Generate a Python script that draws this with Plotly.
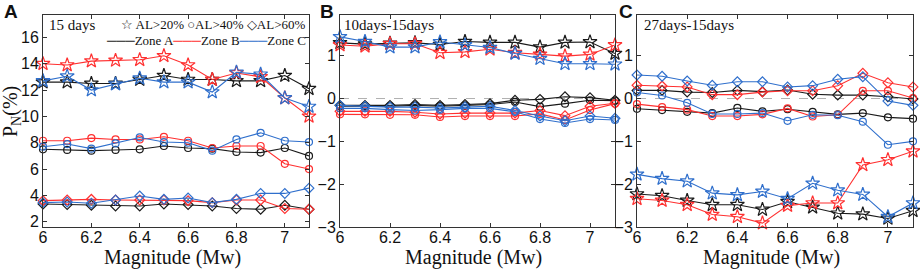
import plotly.graph_objects as go

# ---------------- data ----------------
mag = [6.0, 6.1, 6.2, 6.3, 6.4, 6.5, 6.6, 6.7, 6.8, 6.9, 7.0, 7.1]
x_tickvals = [6, 6.2, 6.4, 6.6, 6.8, 7]
x_ticktext = ["6", "6.2", "6.4", "6.6", "6.8", "7"]
a_tickvals = [2, 4, 6, 8, 10, 12, 14, 16]
bc_tickvals = [-3, -2, -1, 0, 1]

zones = ["Zone A", "Zone B", "Zone C"]
al_levels = ["AL>20%", "AL>40%", "AL>60%"]

# Panel A: 15 days
A_zoneA_20 = [12.6, 12.6, 12.5, 12.5, 12.8, 13.1, 12.8, 12.8, 12.7, 12.7, 13.1, 12.1]
A_zoneB_20 = [14.0, 13.9, 14.2, 14.25, 14.3, 14.6, 13.9, 12.8, 13.3, 13.0, 11.4, 10.0]
A_zoneC_20 = [12.7, 13.05, 12.0, 12.45, 12.9, 12.6, 12.6, 11.85, 13.35, 13.2, 11.4, 10.75]
A_zoneA_40 = [7.5, 7.45, 7.4, 7.45, 7.5, 7.75, 7.6, 7.55, 7.3, 7.25, 7.6, 7.0]
A_zoneB_40 = [8.15, 8.15, 8.35, 8.25, 8.25, 8.45, 8.15, 7.6, 7.75, 7.75, 6.4, 6.0]
A_zoneC_40 = [7.7, 7.9, 7.55, 7.95, 8.4, 8.05, 8.0, 7.4, 8.25, 8.75, 8.15, 8.05]
A_zoneA_60 = [3.35, 3.3, 3.25, 3.2, 3.2, 3.35, 3.3, 3.2, 3.0, 2.95, 3.25, 2.95]
A_zoneB_60 = [3.6, 3.65, 3.7, 3.65, 3.65, 3.65, 3.6, 3.45, 3.65, 3.65, 3.0, 2.95]
A_zoneC_60 = [3.45, 3.5, 3.4, 3.65, 3.95, 3.7, 3.8, 3.45, 3.7, 4.15, 4.15, 4.55]

# Panel B: 10days-15days
B_zoneA_20 = [1.30, 1.27, 1.29, 1.30, 1.26, 1.33, 1.31, 1.31, 1.20, 1.31, 1.32, 1.05]
B_zoneB_20 = [1.25, 1.22, 1.28, 1.28, 1.07, 1.09, 1.15, 1.07, 1.03, 0.99, 1.03, 1.25]
B_zoneC_20 = [1.44, 1.33, 1.20, 1.20, 1.32, 1.25, 1.19, 1.05, 0.93, 0.81, 0.81, 0.80]
B_zoneA_40 = [-0.18, -0.18, -0.18, -0.16, -0.18, -0.16, -0.14, -0.08, -0.19, -0.12, -0.04, -0.05]
B_zoneB_40 = [-0.37, -0.37, -0.38, -0.38, -0.43, -0.41, -0.41, -0.41, -0.36, -0.50, -0.27, -0.12]
B_zoneC_40 = [-0.23, -0.23, -0.26, -0.28, -0.26, -0.23, -0.23, -0.31, -0.48, -0.57, -0.48, -0.50]
B_zoneA_60 = [-0.16, -0.16, -0.16, -0.14, -0.16, -0.14, -0.12, -0.04, -0.02, 0.04, 0.02, -0.04]
B_zoneB_60 = [-0.30, -0.30, -0.30, -0.32, -0.36, -0.34, -0.34, -0.34, -0.28, -0.40, -0.18, -0.11]
B_zoneC_60 = [-0.16, -0.18, -0.20, -0.20, -0.22, -0.20, -0.18, -0.28, -0.41, -0.52, -0.41, -0.46]

# Panel C: 27days-15days
C_zoneA_20 = [-2.23, -2.27, -2.38, -2.48, -2.48, -2.59, -2.41, -2.54, -2.68, -2.70, -2.80, -2.62]
C_zoneB_20 = [-2.34, -2.38, -2.48, -2.71, -2.76, -2.91, -2.50, -2.44, -2.44, -1.55, -1.43, -1.23]
C_zoneC_20 = [-1.77, -1.87, -1.93, -2.21, -2.25, -2.17, -2.34, -1.98, -2.14, -2.24, -2.76, -2.44]
C_zoneA_40 = [-0.24, -0.27, -0.31, -0.34, -0.22, -0.30, -0.25, -0.31, -0.37, -0.34, -0.44, -0.47]
C_zoneB_40 = [-0.13, -0.20, -0.26, -0.41, -0.41, -0.37, -0.23, -0.42, -0.38, 0.18, 0.18, 0.01]
C_zoneC_40 = [0.14, 0.07, -0.10, -0.36, -0.36, -0.34, -0.52, -0.38, -0.39, -0.54, -1.08, -1.00]
C_zoneA_60 = [0.19, 0.19, 0.15, 0.14, 0.19, 0.16, 0.20, 0.10, 0.08, 0.08, 0.04, -0.01]
C_zoneB_60 = [0.31, 0.29, 0.27, 0.09, 0.09, 0.15, 0.18, 0.18, 0.30, 0.59, 0.37, 0.27]
C_zoneC_60 = [0.55, 0.52, 0.41, 0.31, 0.39, 0.39, 0.27, 0.30, 0.45, 0.51, -0.06, -0.16]

panel_titles = ["15 days", "10days-15days", "27days-15days"]
panel_letters = ["A", "B", "C"]
x_title = "Magnitude (Mw)"

# ---------------- style ----------------
zone_colors = ["#1a1a1a", "#ff3030", "#2f6fcc"]
al_symbols = ["star-open", "circle-open", "diamond-open"]
al_sizes = [10.5, 7, 7.5]
SERIF = "Liberation Serif, Times New Roman, serif"
SANS = "Liberation Sans, Arial, sans-serif"

panels = [
    [[A_zoneA_20, A_zoneA_40, A_zoneA_60], [A_zoneB_20, A_zoneB_40, A_zoneB_60], [A_zoneC_20, A_zoneC_40, A_zoneC_60]],
    [[B_zoneA_20, B_zoneA_40, B_zoneA_60], [B_zoneB_20, B_zoneB_40, B_zoneB_60], [B_zoneC_20, B_zoneC_40, B_zoneC_60]],
    [[C_zoneA_20, C_zoneA_40, C_zoneA_60], [C_zoneB_20, C_zoneB_40, C_zoneB_60], [C_zoneC_20, C_zoneC_40, C_zoneC_60]],
]

W, H = 920, 270
x_px = [[43, 309], [340, 615], [637, 913]]
x_domains = [[a / W, b / W] for a, b in x_px]
y_domain = [1 - 227 / H, 1 - 15 / H]

fig = go.Figure()

for p, panel in enumerate(panels):
    xa = "x" if p == 0 else f"x{p+1}"
    ya = "y" if p == 0 else f"y{p+1}"
    for z, zone_series in enumerate(panel):
        for a, vals in enumerate(zone_series):
            fig.add_trace(go.Scatter(
                x=mag, y=vals, xaxis=xa, yaxis=ya,
                mode="lines+markers",
                name=f"{zones[z]} {al_levels[a]}",
                line=dict(color=zone_colors[z], width=1.1),
                marker=dict(symbol=al_symbols[a], size=al_sizes[a],
                            color=zone_colors[z],
                            line=dict(color=zone_colors[z], width=1.2)),
                cliponaxis=False, showlegend=False,
            ))

axis_common = dict(
    showline=True, linecolor="#333333", linewidth=1, mirror="ticks",
    ticks="inside", ticklen=4, tickcolor="#333333", tickwidth=1,
    showgrid=False, zeroline=False, automargin=False,
    tickfont=dict(family=SANS, size=16, color="#111111"),
)

layout = dict(
    width=W, height=H, autosize=False,
    margin=dict(l=0, r=0, t=0, b=0, pad=0),
    paper_bgcolor="white", plot_bgcolor="white",
    showlegend=False,
)
for p in range(3):
    xk = "xaxis" if p == 0 else f"xaxis{p+1}"
    yk = "yaxis" if p == 0 else f"yaxis{p+1}"
    ya = "y" if p == 0 else f"y{p+1}"
    xa = "x" if p == 0 else f"x{p+1}"
    layout[xk] = dict(axis_common, domain=x_domains[p], range=[6, 7.1],
                      tickvals=x_tickvals, ticktext=x_ticktext, anchor=ya,
                      ticklabelstandoff=-4)
    if p == 0:
        layout[yk] = dict(axis_common, domain=y_domain, range=[1.6, 17.7],
                          tickvals=a_tickvals, anchor=xa)
    else:
        layout[yk] = dict(axis_common, domain=y_domain, range=[-3, 1.95],
                          tickvals=bc_tickvals, anchor=xa)

fig.update_layout(**layout)

# zero reference lines in B and C
for p in (1, 2):
    fig.add_shape(type="line", xref=f"x{p+1} domain", yref=f"y{p+1}",
                  x0=0, x1=1, y0=0, y1=0,
                  line=dict(color="#b0b0b0", width=1, dash="dash"), layer="below")

# panel letters
letter_x = [2, 318, 617]
for p in range(3):
    fig.add_annotation(text=f"<b>{panel_letters[p]}</b>", xref="paper", yref="paper",
                       x=letter_x[p] / W, y=1 - 12 / H, xanchor="left", yanchor="middle",
                       showarrow=False, font=dict(family=SANS, size=19, color="#111111"))

# panel titles inside plot
title_x = [47, 342, 642]
for p in range(3):
    fig.add_annotation(text=panel_titles[p], xref="paper", yref="paper",
                       x=title_x[p] / W, y=1 - 25 / H, xanchor="left", yanchor="middle",
                       showarrow=False, font=dict(family=SERIF, size=15, color="#111111"))

# x-axis titles
for p in range(3):
    cx = (x_px[p][0] + x_px[p][1]) / 2 - 4
    fig.add_annotation(text=x_title, xref="paper", yref="paper",
                       x=cx / W, y=1 - 257 / H, xanchor="center", yanchor="middle",
                       showarrow=False, font=dict(family=SERIF, size=20, color="#111111"))

# legend-like annotations in panel A
fig.add_annotation(text="☆ AL>20% ○AL>40% ◇AL>60%", xref="paper", yref="paper",
                   x=308 / W, y=1 - 25 / H, xanchor="right", yanchor="middle",
                   showarrow=False, font=dict(family=SERIF, size=13, color="#111111"))
leg2 = "".join(
    f"<span style='color:{zone_colors[i]}'>───</span>{zones[i]}"
    for i in range(3)
)
fig.add_annotation(text=leg2, xref="paper", yref="paper",
                   x=308 / W, y=1 - 40 / H, xanchor="right", yanchor="middle",
                   showarrow=False, font=dict(family=SERIF, size=13, color="#111111"))

# y-axis title
fig.add_annotation(text="P<sub>N</sub>(%)", xref="paper", yref="paper",
                   x=12 / W, y=1 - 112 / H, xanchor="center", yanchor="middle",
                   textangle=-90, showarrow=False,
                   font=dict(family=SERIF, size=20, color="#111111"))

fig.write_html(
    "out.html",
    config={"displayModeBar": False},
    post_script="document.body.style.margin='0px';document.body.style.overflow='hidden';",
)
